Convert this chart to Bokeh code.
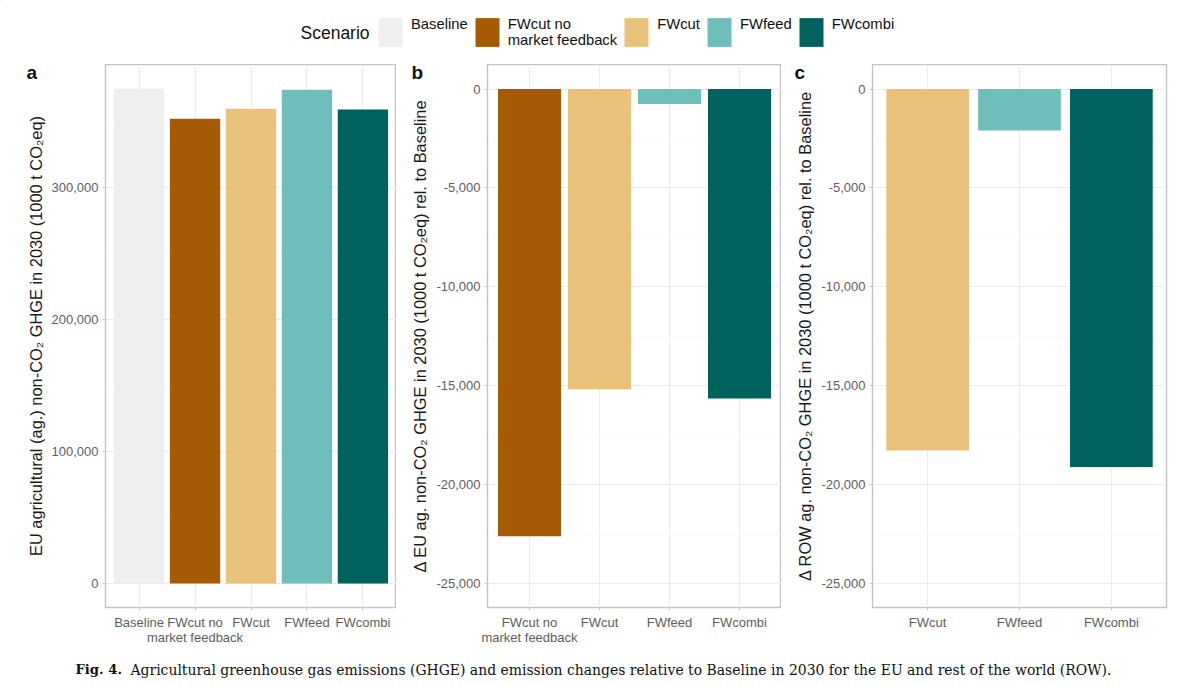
from bokeh.plotting import figure
from bokeh.layouts import column, row
from bokeh.models import (ColumnDataSource, FactorRange, Range1d, FixedTicker, NumeralTickFormatter,
                          Label, Legend, LegendItem)
from bokeh.embed import file_html
from bokeh.resources import INLINE

NOFB = "FWcut no\nmarket feedback"
cats_a = ["Baseline", NOFB, "FWcut", "FWfeed", "FWcombi"]
vals_a = [374600, 352000, 359400, 373900, 358900]
cats_b = [NOFB, "FWcut", "FWfeed", "FWcombi"]
vals_b = [-22600, -15170, -750, -15640]
cats_c = ["FWcut", "FWfeed", "FWcombi"]
vals_c = [-18270, -2100, -19100]
colors = {"Baseline": "#EFEFEF", NOFB: "#A55B04", "FWcut": "#E8C27B", "FWfeed": "#6EBEBC", "FWcombi": "#00615D"}

ticks_a = [0, 100000, 200000, 300000]
minor_a = [50000, 150000, 250000, 350000]
ticks_d = [0, -5000, -10000, -15000, -20000, -25000]
minor_d = [-2500, -7500, -12500, -17500, -22500]

title_a = "EU agricultural (ag.) non-CO₂ GHGE in 2030 (1000 t CO₂eq)"
title_b = "Δ EU ag. non-CO₂ GHGE in 2030 (1000 t CO₂eq) rel. to Baseline"
title_c = "Δ ROW ag. non-CO₂ GHGE in 2030 (1000 t CO₂eq) rel. to Baseline"

FONT = "Liberation Sans"
FRAME_H = 543
BOTTOM = 43


def panel(cats, vals, ylim, ticks, minor, ylabel, letter, letter_x, left, frame_w, right):
    src = ColumnDataSource(dict(x=cats, y=vals, c=[colors[k] for k in cats]))
    xr = FactorRange(factors=cats, range_padding=0.1, range_padding_units="absolute")
    p = figure(x_range=xr, y_range=Range1d(*ylim), frame_width=frame_w, frame_height=FRAME_H,
               output_backend="svg", toolbar_location=None,
               min_border_left=left, min_border_right=right, min_border_top=0, min_border_bottom=BOTTOM)
    p.vbar(x="x", top="y", bottom=0, width=0.9, fill_color="c", line_color=None, source=src)
    p.outline_line_color = "#C4C4C4"
    p.outline_line_width = 1.4
    p.background_fill_color = "white"
    p.border_fill_color = "white"
    p.xgrid.grid_line_color = "#EBEBEB"
    p.xgrid.grid_line_width = 1
    p.ygrid.grid_line_color = "#EBEBEB"
    p.ygrid.grid_line_width = 1
    p.ygrid.minor_grid_line_color = "#F3F3F3"
    p.ygrid.minor_grid_line_width = 0.6
    p.yaxis.ticker = FixedTicker(ticks=ticks, minor_ticks=minor)
    p.yaxis.formatter = NumeralTickFormatter(format="0,0")
    p.yaxis.axis_label = ylabel
    p.yaxis.axis_label_text_font = FONT
    p.yaxis.axis_label_text_font_size = "16.4px"
    p.yaxis.axis_label_text_font_style = "normal"
    p.yaxis.axis_label_text_color = "#1A1A1A"
    p.yaxis.axis_label_standoff = 4
    for ax in (p.xaxis, p.yaxis):
        ax.axis_line_color = None
        ax.major_tick_line_color = "#C4C4C4"
        ax.major_tick_out = 3
        ax.major_tick_in = 0
        ax.minor_tick_line_color = None
        ax.major_label_text_font = FONT
        ax.major_label_text_font_size = "13px"
        ax.major_label_text_color = "#5E5E5E"
        ax.major_label_standoff = 3
    p.xaxis.major_label_standoff = 4
    p.xaxis.major_label_text_line_height = 1.0
    p.xaxis.major_label_orientation = "horizontal"
    p.add_layout(Label(x=letter_x, y=8, x_units="canvas", y_units="canvas", text=letter,
                       text_font=FONT, text_font_style="bold", text_font_size="19px",
                       text_baseline="middle", text_color="#111111"), "left")
    return p


pa = panel(cats_a, vals_a, (-18200, 393000), ticks_a, minor_a, title_a, "a", 26, 105, 291, 0)
pb = panel(cats_b, vals_b, (-26200, 1240), ticks_d, minor_d, title_b, "b", 15, 91, 294, 0)
pc = panel(cats_c, vals_c, (-26200, 1240), ticks_d, minor_d, title_c, "c", 13, 91, 294, 4)

# legend strip
lg = figure(width=1170, height=64, x_range=Range1d(0, 1), y_range=Range1d(0, 1),
            output_backend="svg", toolbar_location=None, min_border=0)
lg.xaxis.visible = False
lg.yaxis.visible = False
lg.grid.visible = False
lg.outline_line_color = None
items = []
for k, v in zip(cats_a, vals_a):
    r = lg.vbar(x=[-1], top=[v], bottom=[v], width=1, fill_color=colors[k], line_color=None)
    items.append(LegendItem(label=k if "\n" in k else k + "\n ", renderers=[r]))
leg = Legend(items=items, orientation="horizontal", location=(375, 14),
             label_text_font=FONT, label_text_font_size="14.8px", label_text_color="#111111",
             label_text_baseline="top", label_standoff=6, spacing=4, padding=0, margin=0,
             glyph_width=30, glyph_height=36, border_line_color=None, background_fill_alpha=0)
lg.add_layout(leg)
lg.add_layout(Label(x=300, y=32, x_units="screen", y_units="screen", text="Scenario",
                    text_font=FONT, text_font_size="17.5px", text_color="#111111", text_baseline="middle"))

# caption strip
cap = figure(width=1170, height=30, x_range=Range1d(0, 1), y_range=Range1d(0, 1),
             output_backend="svg", toolbar_location=None, min_border=0)
cap.xaxis.visible = False
cap.yaxis.visible = False
cap.grid.visible = False
cap.outline_line_color = None
cap.add_layout(Label(x=75, y=11, x_units="screen", y_units="screen", text="Fig. 4.",
                     text_font="DejaVu Serif", text_font_style="bold", text_font_size="13.2px",
                     text_color="#111111", text_baseline="middle"))
cap.add_layout(Label(x=130, y=11, x_units="screen", y_units="screen",
                     text="Agricultural greenhouse gas emissions (GHGE) and emission changes relative to Baseline in 2030 for the EU and rest of the world (ROW).",
                     text_font="DejaVu Serif", text_font_size="13.95px",
                     text_color="#111111", text_baseline="middle"))

page = column(lg, row(pa, pb, pc, spacing=0), cap, spacing=0)
open("out.html", "w").write(file_html(page, INLINE))
